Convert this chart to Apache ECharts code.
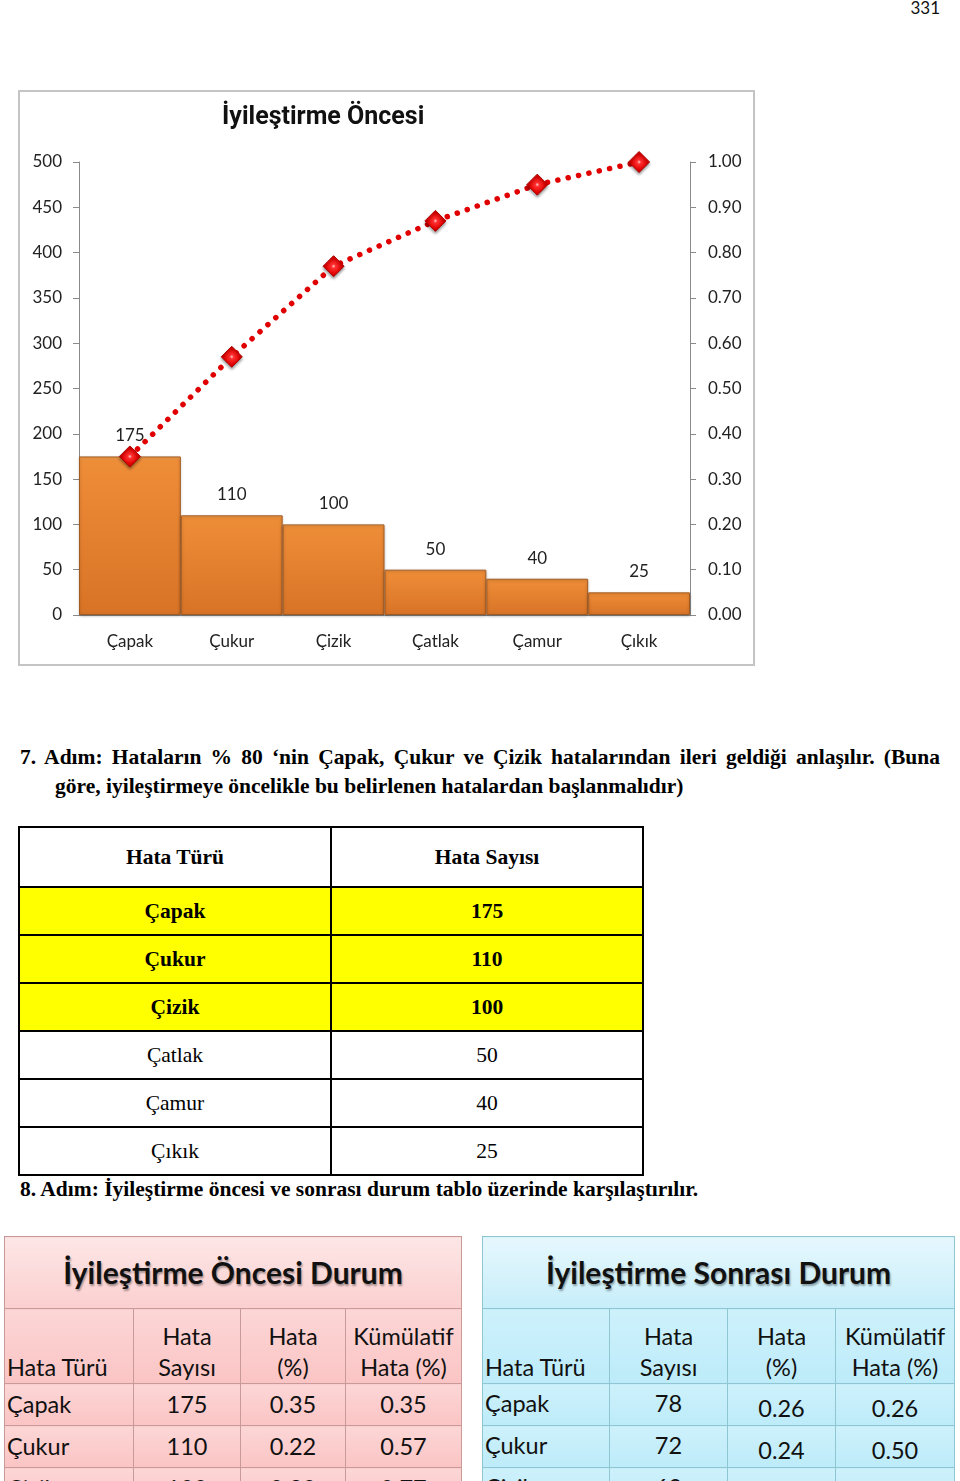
<!DOCTYPE html>
<html><head><meta charset="utf-8">
<script src="https://cdn.jsdelivr.net/npm/echarts@6/dist/echarts.min.js"></script>
<style>
html,body{margin:0;padding:0;background:#fff;}
body{width:960px;height:1481px;position:relative;overflow:hidden;font-family:"Liberation Serif","Times New Roman",serif;color:#000;}
.abs{position:absolute;}
#pageno{left:880px;top:-3px;width:60px;text-align:right;font:17px Lato,sans-serif;color:#111;}
#chartbox{left:18px;top:90px;width:737px;height:576px;border:2px solid #c4c4c4;box-sizing:border-box;pointer-events:none;}
#chart{left:18px;top:90px;width:737px;height:576px;}
.para{font-weight:bold;font-size:21.5px;line-height:29px;}
#l1{left:20px;top:743px;width:920px;text-align:justify;text-align-last:justify;white-space:nowrap;}
#l2{left:55px;top:772px;white-space:nowrap;}
#l3{left:20px;top:1175px;white-space:nowrap;}
table{border-collapse:collapse;table-layout:fixed;}
#t1{left:18px;top:826px;width:626px;}
#t1 td{border:2px solid #000;text-align:center;font-size:21.5px;padding:0;}
#t1 tr.h td{height:58px;font-weight:bold;}
#t1 tr.r td{height:46px;}
#t1 tr.y td{background:#ffff00;font-weight:bold;}
.ct{font-family:Lato,sans-serif;font-size:23.5px;color:#111;}
.ct td{padding:0;line-height:31px;}
.ct .title td{height:71px;font-weight:bold;font-size:30px;text-align:center;text-shadow:1px 2px 2px rgba(0,0,0,0.35);}
.ct .hdr td{height:74px;vertical-align:bottom;text-align:center;}
.ct .hdr td:first-child{text-align:left;padding-left:2px;}
.ct .row td{height:41px;text-align:center;}
.ct .row td:first-child{text-align:left;padding-left:2px;}
#t2{left:4px;top:1236px;width:457px;}
#t2 td{border:1px solid #c99a9a;background:linear-gradient(#fcd6d6,#fbc4c4);}
#t2 .title td{background:linear-gradient(#fde6e6,#fbcfcf);}
#t3{left:482px;top:1236px;width:472px;}
#t3 td{border:1px solid #8ec6d2;background:linear-gradient(#cdf1fb,#bdebf9);}
#t3 .title td{background:linear-gradient(#e6f7fd,#c7eefa);}
#t3 .row td.lo{padding-top:8px;height:33px;}
#t3 .row td.hi{padding-bottom:2px;height:39px;}
</style></head><body>
<div id="pageno" class="abs">331</div>
<div id="chart" class="abs"></div>
<div id="chartbox" class="abs"></div>

<div id="l1" class="abs para">7. Adım: Hataların % 80 ‘nin Çapak, Çukur ve Çizik hatalarından ileri geldiği anlaşılır. (Buna</div>
<div id="l2" class="abs para">göre, iyileştirmeye öncelikle bu belirlenen hatalardan başlanmalıdır)</div>

<table id="t1" class="abs"><tbody id="t1body"></tbody></table>

<div id="l3" class="abs para">8. Adım: İyileştirme öncesi ve sonrası durum tablo üzerinde karşılaştırılır.</div>

<table id="t2" class="abs ct"><tbody id="t2body"></tbody></table>
<table id="t3" class="abs ct"><tbody id="t3body"></tbody></table>

<script>
// ---- data ----
const categories = ['Çapak', 'Çukur', 'Çizik', 'Çatlak', 'Çamur', 'Çıkık'];
const defectCounts = [175, 110, 100, 50, 40, 25];
const cumulativeShare = [0.35, 0.57, 0.77, 0.87, 0.95, 1.00];
const highlightedRows = 3;

const beforeTypes = ['Çapak', 'Çukur', 'Çizik'];
const beforeCounts = ['175', '110', '100'];
const beforePct = ['0.35', '0.22', '0.20'];
const beforeCum = ['0.35', '0.57', '0.77'];

const afterTypes = ['Çapak', 'Çukur', 'Çizik'];
const afterCounts = ['78', '72', '60'];
const afterPct = ['0.26', '0.24', '0.20'];
const afterCum = ['0.26', '0.50', '0.70'];

// ---- table 1 ----
let h = '<tr class="h"><td>Hata Türü</td><td>Hata Sayısı</td></tr>';
categories.forEach((c, i) => {
  h += '<tr class="r' + (i < highlightedRows ? ' y' : '') + '"><td>' + c + '</td><td>' + defectCounts[i] + '</td></tr>';
});
document.getElementById('t1body').innerHTML = h;

function compTable(id, title, types, counts, pct, cum, widths, after) {
  let s = '<colgroup>' + widths.map(w => '<col style="width:' + w + 'px">').join('') + '</colgroup>';
  s += '<tr class="title"><td colspan="4">' + title + '</td></tr>';
  s += '<tr class="hdr"><td>Hata Türü</td><td>Hata<br>Sayısı</td><td>Hata<br>(%)</td><td>Kümülatif<br>Hata (%)</td></tr>';
  types.forEach((t, i) => {
    if (after) {
      s += '<tr class="row"><td class="hi">' + t + '</td><td class="hi">' + counts[i] + '</td><td class="lo">' + pct[i] + '</td><td class="lo">' + cum[i] + '</td></tr>';
    } else {
      s += '<tr class="row"><td>' + t + '</td><td>' + counts[i] + '</td><td>' + pct[i] + '</td><td>' + cum[i] + '</td></tr>';
    }
  });
  document.getElementById(id).parentNode.innerHTML = s;
}
compTable('t2body', 'İyileştirme Öncesi Durum', beforeTypes, beforeCounts, beforePct, beforeCum, [129, 107, 105, 116], false);
compTable('t3body', 'İyileştirme Sonrası Durum', afterTypes, afterCounts, afterPct, afterCum, [127, 118, 108, 119], true);

// ---- chart ----
const chart = echarts.init(document.getElementById('chart'));
const axisGray = '#8a8a8a';
chart.setOption({
  animation: false,
  textStyle: { fontFamily: 'Lato' },
  title: {
    text: 'İyileştirme Öncesi', left: 222 - 18, top: 15, padding: 0,
    textStyle: { fontFamily: 'Roboto', fontWeight: 'bold', fontSize: 25, color: '#111' }
  },
  grid: { left: 61, right: 65, top: 72, bottom: 51 },
  xAxis: {
    type: 'category', data: categories, boundaryGap: true,
    axisLine: { lineStyle: { color: axisGray } },
    axisTick: { show: false },
    axisLabel: { color: '#222', fontSize: 17, margin: 18 }
  },
  yAxis: [{
    type: 'value', min: 0, max: 500, interval: 50,
    axisLine: { show: true, lineStyle: { color: axisGray } },
    axisTick: { show: true, length: 6, lineStyle: { color: axisGray } },
    axisLabel: { color: '#222', fontSize: 17, margin: 17 },
    splitLine: { show: false }
  }, {
    type: 'value', min: 0, max: 1, interval: 0.1, position: 'right',
    axisLine: { show: true, lineStyle: { color: axisGray } },
    axisTick: { show: true, length: 6, lineStyle: { color: axisGray } },
    axisLabel: { color: '#222', fontSize: 17, margin: 18, formatter: v => v.toFixed(2) },
    splitLine: { show: false }
  }],
  series: [{
    type: 'bar', data: defectCounts, barCategoryGap: '0%',
    itemStyle: {
      color: new echarts.graphic.LinearGradient(0, 0, 0, 1, [
        { offset: 0, color: '#f6a352' },
        { offset: 0.03, color: '#ee8d38' },
        { offset: 1, color: '#d87326' }
      ]),
      borderColor: '#a35a1f', borderWidth: 1,
      shadowColor: 'rgba(0,0,0,0.25)', shadowBlur: 3, shadowOffsetY: 1
    },
    label: { show: true, position: 'top', distance: 12, color: '#222', fontSize: 17 }
  }, {
    type: 'line', yAxisIndex: 1, data: cumulativeShare, z: 5,
    symbol: 'diamond', symbolSize: 21,
    lineStyle: { color: '#e00000', width: 5.5, type: [0.1, 10.5], cap: 'round' },
    itemStyle: {
      color: new echarts.graphic.RadialGradient(0.5, 0.5, 0.6, [
        { offset: 0, color: '#ffd0d0' },
        { offset: 0.15, color: '#ff3030' },
        { offset: 0.6, color: '#e00000' },
        { offset: 1, color: '#a80000' }
      ]),
      borderColor: '#b00000', borderWidth: 1,
      shadowColor: 'rgba(0,0,0,0.4)', shadowBlur: 3, shadowOffsetY: 2
    }
  }]
});
</script>
</body></html>
